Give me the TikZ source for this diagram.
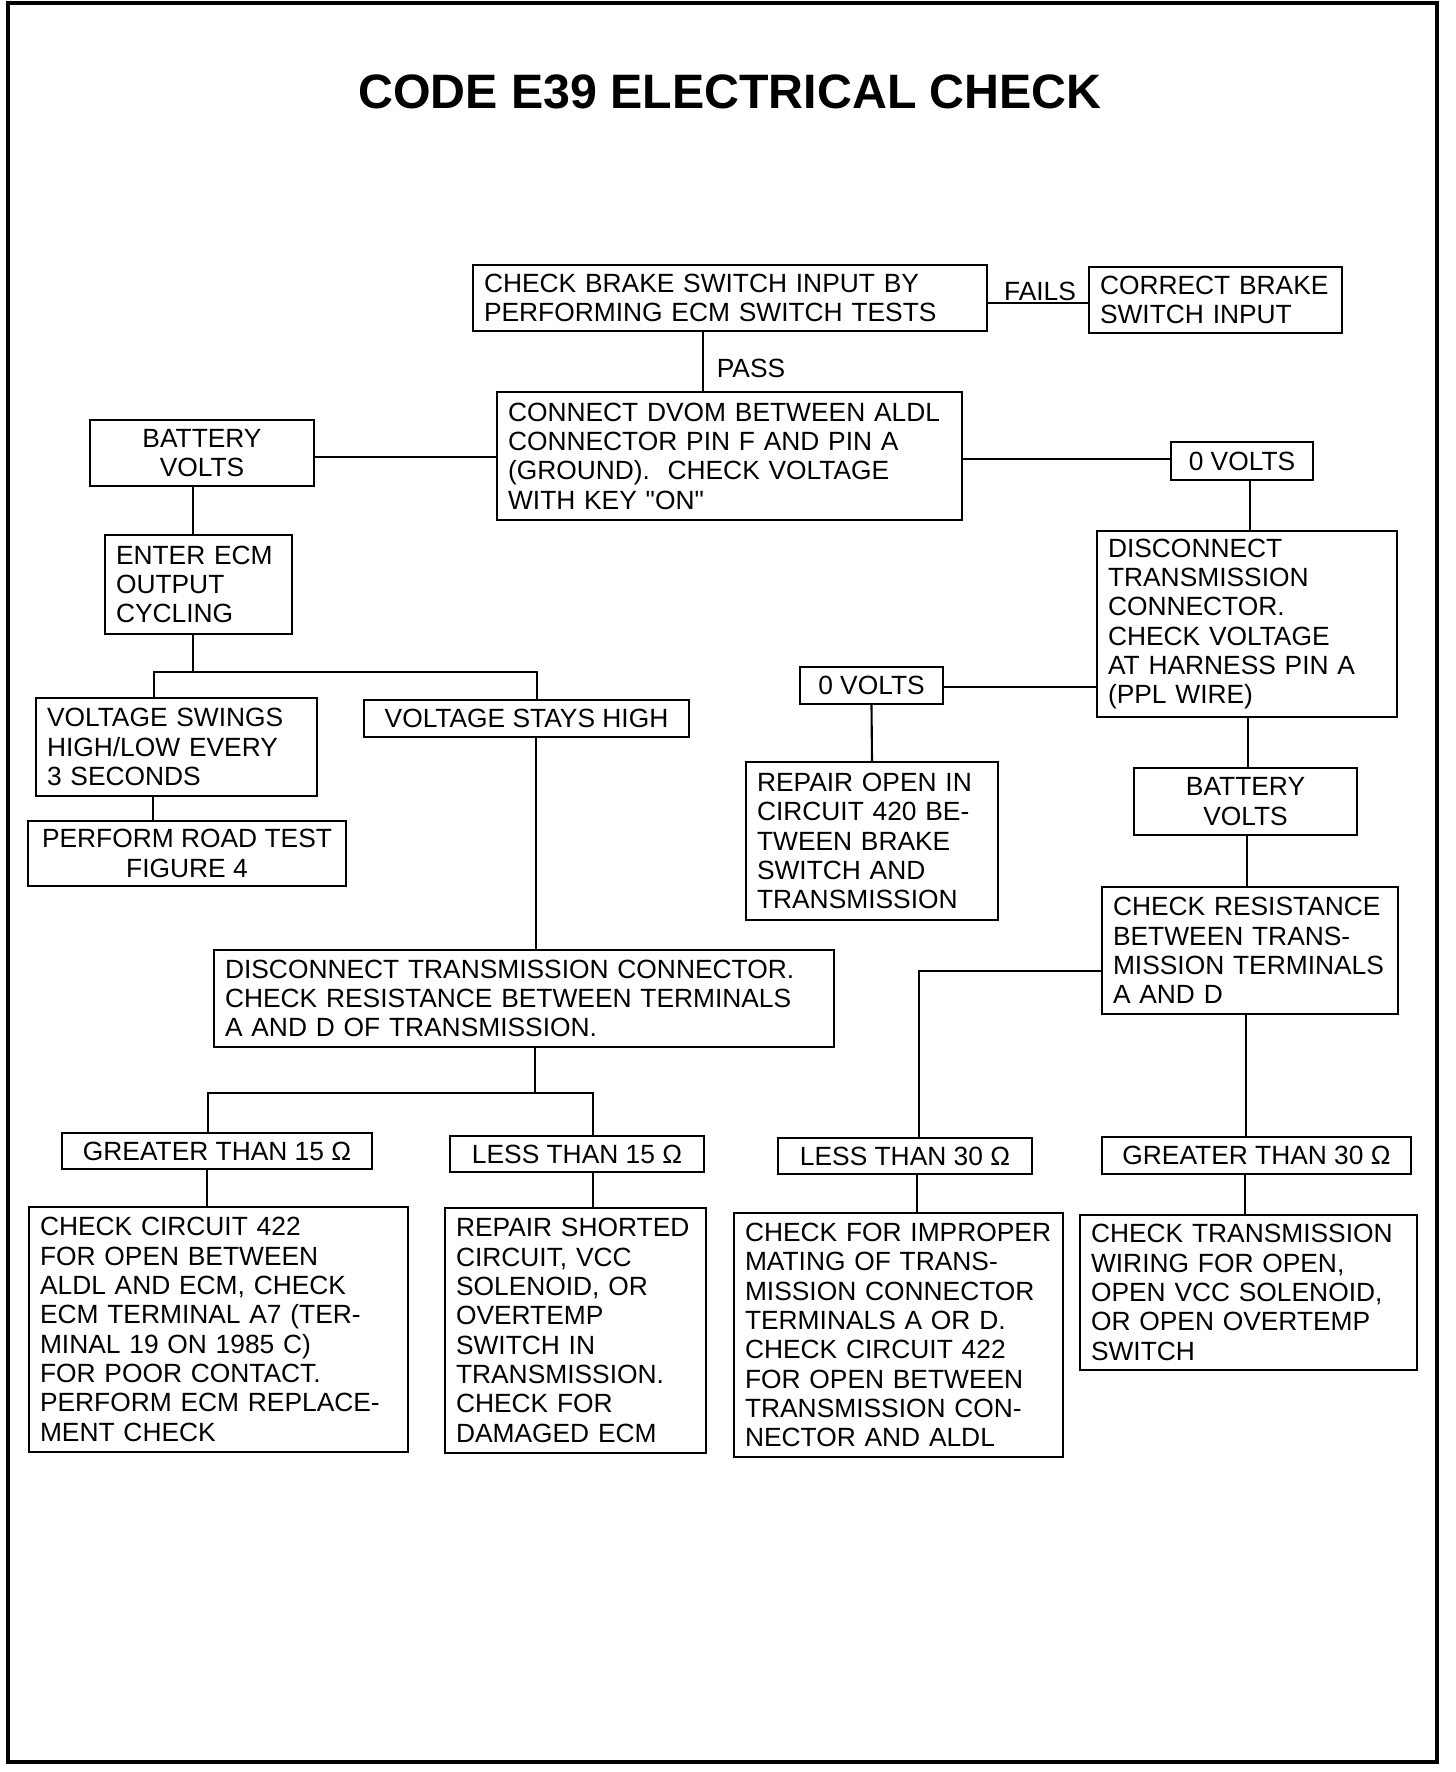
\documentclass[tikz,border=0pt]{standalone}
\usepackage{fontspec}
\setmainfont{Liberation Sans}
\newcommand{\boxfont}{\fontsize{15}{16.7}\selectfont}
\newcommand{\headfont}{\fontsize{27.5}{30}\selectfont\bfseries}
\tikzset{
  chkbox/.style={rectangle, draw, line width=1.2pt, font=\boxfont, align=left, inner xsep=0.22cm, inner ysep=0pt},
  midbox/.style={rectangle, draw, line width=1.2pt, font=\boxfont, align=center, inner xsep=0.22cm, inner ysep=0pt},
  branchlabel/.style={font=\boxfont, anchor=base, inner sep=0pt},
  link/.style={line width=1.2pt},
}
\begin{document}
\begin{tikzpicture}[x=0.02cm,y=-0.02cm]
  \useasboundingbox (0,0) rectangle (1456,1772);
  \draw[line width=2.3pt] (8,3) rectangle (1437,1762);
  \node[font=\headfont, anchor=base, inner sep=0pt] (title) at (730,108) {CODE E39 ELECTRICAL CHECK};

  % top and left branch
  \node[chkbox, text width=9.84cm, minimum height=1.32cm] (brake) at (730,298) {CHECK BRAKE SWITCH INPUT BY\\PERFORMING ECM SWITCH TESTS};
  \node[chkbox, text width=4.62cm, minimum height=1.32cm] (correct) at (1215.5,300) {CORRECT BRAKE\\SWITCH INPUT};
  \node[chkbox, text width=8.86cm, minimum height=2.56cm] (dvom) at (729.5,456) {CONNECT DVOM BETWEEN ALDL\\CONNECTOR PIN F AND PIN A\\(GROUND).\ \ CHECK VOLTAGE\\WITH KEY \textquotedbl ON\textquotedbl};
  \node[midbox, minimum width=4.48cm, minimum height=1.32cm] (batL) at (202,453) {BATTERY\\VOLTS};
  \node[chkbox, text width=3.30cm, minimum height=1.98cm] (ecm) at (198.5,584.5) {ENTER ECM\\OUTPUT\\CYCLING};
  \node[chkbox, text width=5.18cm, minimum height=1.96cm] (swing) at (176.5,747) {VOLTAGE SWINGS\\HIGH/LOW EVERY\\3 SECONDS};
  \node[midbox, minimum width=6.5cm, minimum height=0.74cm] (high) at (526.5,718.5) {VOLTAGE STAYS HIGH};
  \node[midbox, minimum width=6.36cm, minimum height=1.3cm] (road) at (187,853.5) {PERFORM ROAD TEST\\FIGURE 4};
  \node[chkbox, text width=11.96cm, minimum height=1.94cm] (discA) at (524,998.5) {DISCONNECT TRANSMISSION CONNECTOR.\\CHECK RESISTANCE BETWEEN TERMINALS\\A AND D OF TRANSMISSION.};
  \node[midbox, minimum width=6.2cm, minimum height=0.72cm] (gt15) at (217,1151) {GREATER THAN 15 Ω};
  \node[midbox, minimum width=5.08cm, minimum height=0.72cm] (lt15) at (577,1154) {LESS THAN 15 Ω};
  \node[chkbox, text width=7.14cm, minimum height=4.9cm] (ckt422) at (218.5,1329.5) {CHECK CIRCUIT 422\\FOR OPEN BETWEEN\\ALDL AND ECM, CHECK\\ECM TERMINAL A7 (TER-\\MINAL 19 ON 1985 C)\\FOR POOR CONTACT.\\PERFORM ECM REPLACE-\\MENT CHECK};
  \node[chkbox, text width=4.78cm, minimum height=4.9cm] (shorted) at (575.5,1330.5) {REPAIR SHORTED\\CIRCUIT, VCC\\SOLENOID, OR\\OVERTEMP\\SWITCH IN\\TRANSMISSION.\\CHECK FOR\\DAMAGED ECM};

  % right branch
  \node[midbox, minimum width=2.84cm, minimum height=0.76cm] (zeroA) at (1242,461) {0 VOLTS};
  \node[chkbox, text width=5.56cm, minimum height=3.72cm] (discB) at (1247,624) {DISCONNECT\\TRANSMISSION\\CONNECTOR.\\CHECK VOLTAGE\\AT HARNESS PIN A\\(PPL WIRE)};
  \node[midbox, minimum width=2.86cm, minimum height=0.74cm] (zeroB) at (871.5,685.5) {0 VOLTS};
  \node[chkbox, text width=4.60cm, minimum height=3.16cm] (openckt) at (872,841) {REPAIR OPEN IN\\CIRCUIT 420 BE-\\TWEEN BRAKE\\SWITCH AND\\TRANSMISSION};
  \node[midbox, minimum width=4.46cm, minimum height=1.34cm] (batR) at (1245.5,801.5) {BATTERY\\VOLTS};
  \node[chkbox, text width=5.48cm, minimum height=2.54cm] (res) at (1250,950.5) {CHECK RESISTANCE\\BETWEEN TRANS-\\MISSION TERMINALS\\A AND D};
  \node[midbox, minimum width=5.08cm, minimum height=0.72cm] (lt30) at (905,1156) {LESS THAN 30 Ω};
  \node[midbox, minimum width=6.18cm, minimum height=0.74cm] (gt30) at (1256.5,1155.5) {GREATER THAN 30 Ω};
  \node[chkbox, text width=6.14cm, minimum height=4.88cm] (mating) at (898.5,1335) {CHECK FOR IMPROPER\\MATING OF TRANS-\\MISSION CONNECTOR\\TERMINALS A OR D.\\CHECK CIRCUIT 422\\FOR OPEN BETWEEN\\TRANSMISSION CON-\\NECTOR AND ALDL};
  \node[chkbox, text width=6.30cm, minimum height=3.1cm] (wiring) at (1248.5,1292.5) {CHECK TRANSMISSION\\WIRING FOR OPEN,\\OPEN VCC SOLENOID,\\OR OPEN OVERTEMP\\SWITCH};

  % labels on the links
  \node[branchlabel] (fails) at (1040,300) {FAILS};
  \node[branchlabel] (pass) at (751,377) {PASS};

  % forks
  \coordinate (ecmfork) at (193,672);
  \coordinate (discfork) at (535,1093);

  \draw[link] (brake.east |- 0,303) -- (correct.west |- 0,303);
  \draw[link] (brake.south -| 703,0) -- (dvom.north -| 703,0);
  \draw[link] (dvom.west |- 0,457) -- (batL.east |- 0,457);
  \draw[link] (dvom.east |- 0,459) -- (zeroA.west |- 0,459);
  \draw[link] (batL.south -| 193,0) -- (ecm.north -| 193,0);
  \draw[link] (ecm.south -| ecmfork) -- (ecmfork);
  \draw[link] (swing.north -| 154,0) |- (ecmfork) -| (high.north -| 537,0);
  \draw[link] (swing.south -| 153,0) -- (road.north -| 153,0);
  \draw[link] (high.south -| 536,0) -- (discA.north -| 536,0);
  \draw[link] (discA.south -| discfork) -- (discfork);
  \draw[link] (gt15.north -| 208,0) |- (discfork) -| (lt15.north -| 593,0);
  \draw[link] (gt15.south -| 207,0) -- (ckt422.north -| 207,0);
  \draw[link] (lt15.south -| 593,0) -- (shorted.north -| 593,0);

  \draw[link] (zeroA.south -| 1250,0) -- (discB.north -| 1250,0);
  \draw[link] (discB.west |- 0,687) -- (zeroB.east |- 0,687);
  \draw[link] (zeroB.south) -- (openckt.north);
  \draw[link] (discB.south -| 1248,0) -- (batR.north -| 1248,0);
  \draw[link] (batR.south -| 1247,0) -- (res.north -| 1247,0);
  \draw[link] (res.west |- 0,971) -| (lt30.north -| 919,0);
  \draw[link] (res.south -| 1246,0) -- (gt30.north -| 1246,0);
  \draw[link] (lt30.south -| 917,0) -- (mating.north -| 917,0);
  \draw[link] (gt30.south -| 1245,0) -- (wiring.north -| 1245,0);
\end{tikzpicture}
\end{document}
